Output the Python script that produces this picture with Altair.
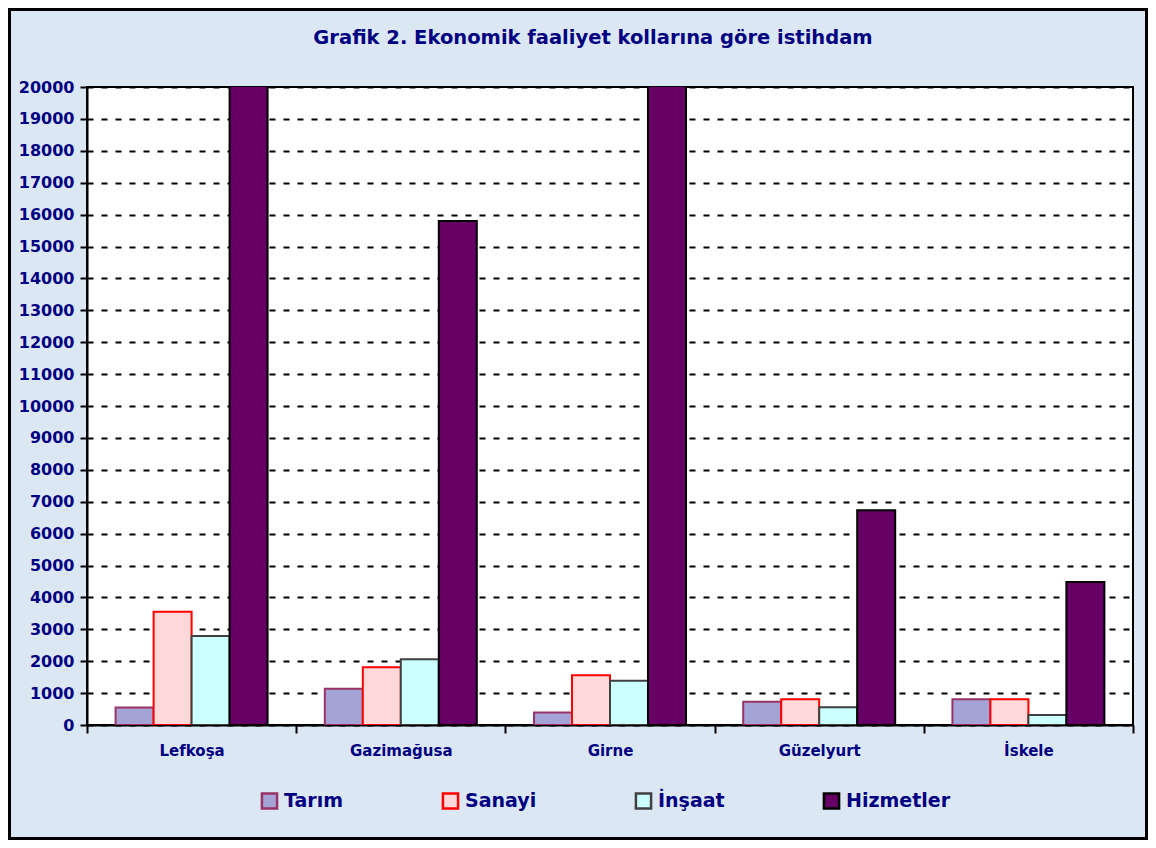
import altair as alt
import pandas as pd

regions = ["Lefkoşa", "Gazimağusa", "Girne", "Güzelyurt", "İskele"]
sectors = ["Tarım", "Sanayi", "İnşaat", "Hizmetler"]
tarim = [550, 1140, 390, 730, 810]
sanayi = [3550, 1810, 1560, 810, 810]
insaat = [2790, 2060, 1390, 560, 310]
hizmetler = [27000, 15800, 21000, 6730, 4480]
y_ticks = list(range(0, 20001, 1000))

fills = ["#a3a3d6", "#ffd9d9", "#ccffff", "#660066"]
strokes = ["#993366", "#ff0000", "#404040", "#000000"]

rows = []
for i, r in enumerate(regions):
    for s, vals in zip(sectors, [tarim, sanayi, insaat, hizmetler]):
        rows.append({"Bölge": r, "Sektör": s, "Kişi": vals[i]})
df = pd.DataFrame(rows)

NAVY = "#000080"
W, H = 1046, 638

bars = alt.Chart(df).mark_bar(strokeWidth=2, clip=True).encode(
    x=alt.X("Bölge:N", sort=regions, title=None,
            scale=alt.Scale(paddingInner=0, paddingOuter=0),
            axis=alt.Axis(tickBand="extent", labelAngle=0, labelFont="DejaVu Sans",
                          labelFontSize=15, labelFontWeight="bold", labelColor=NAVY,
                          labelPadding=10, tickSize=8, tickColor="black", tickWidth=2,
                          domainColor="black", domainWidth=2, grid=False)),
    xOffset=alt.XOffset("Sektör:N", sort=sectors,
                        scale=alt.Scale(paddingInner=0, paddingOuter=0.753)),
    y=alt.Y("Kişi:Q", title=None,
            scale=alt.Scale(domain=[0, 20000], nice=False),
            axis=alt.Axis(values=y_ticks, format="d", labelFont="DejaVu Sans",
                          labelFontSize=16, labelFontWeight="bold", labelColor=NAVY,
                          labelPadding=6, tickSize=7, tickColor="black", tickWidth=2,
                          domainColor="black", domainWidth=2,
                          grid=True, gridColor="black", gridWidth=2,
                          gridDash=[6, 8], gridOpacity=1)),
    fill=alt.Fill("Sektör:N", sort=sectors, title=None,
                  scale=alt.Scale(domain=sectors, range=fills),
                  legend=alt.Legend(orient="none", direction="horizontal", columns=4,
                                    legendX=173, legendY=704, padding=0,
                                    symbolType="square", symbolSize=230,
                                    symbolStrokeWidth=2.5, symbolOpacity=1,
                                    labelFont="DejaVu Sans", labelFontSize=19,
                                    labelFontWeight="bold", labelColor=NAVY,
                                    labelOffset=5, columnPadding=93, labelLimit=300)),
    stroke=alt.Stroke("Sektör:N", sort=sectors, title=None,
                      scale=alt.Scale(domain=sectors, range=strokes)),
)

border = alt.Chart(pd.DataFrame({"a": [0]})).mark_rect(
    fill=None, stroke="black", strokeWidth=3, clip=False
).encode(x=alt.value(-77.5), x2=alt.value(W + 13.5),
         y=alt.value(-77.5), y2=alt.value(H + 113.5))

chart = alt.layer(bars, border).properties(
    width=W, height=H,
    background="#dce7f4",
    autosize=alt.AutoSizeParams(type="none"),
    padding={"left": 79, "top": 79, "right": 15, "bottom": 115},
    title=alt.TitleParams("Grafik 2. Ekonomik faaliyet kollarına göre istihdam",
                          font="DejaVu Sans", fontSize=19.5, fontWeight="bold",
                          color=NAVY, anchor="middle", baseline="alphabetic",
                          offset=0, dy=55, dx=-17),
).configure_view(stroke="black", strokeWidth=2, fill="white")

chart.save("out.html", embed_options={"renderer": "svg", "actions": False})
